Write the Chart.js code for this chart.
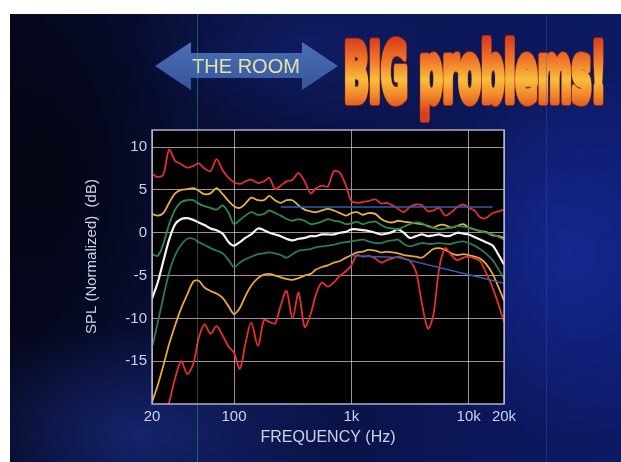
<!DOCTYPE html>
<html>
<head>
<meta charset="utf-8">
<script src="https://cdn.jsdelivr.net/npm/chart.js@4.4.1/dist/chart.umd.min.js"></script>
<style>
  html, body { margin: 0; padding: 0; background: #fff; }
  body { width: 621px; height: 462px; position: relative; overflow: hidden; }
  .slide {
    position: absolute; left: 10px; top: 14px; width: 611px; height: 448px;
    background:
      radial-gradient(ellipse 150px 190px at 560px 240px, rgba(24, 44, 160, 0.75), rgba(24, 44, 160, 0)),
      radial-gradient(ellipse 200px 110px at 130px 420px, rgba(28, 48, 140, 0.65), rgba(28, 48, 140, 0)),
      radial-gradient(ellipse 180px 90px at 300px 30px, rgba(22, 36, 120, 0.55), rgba(22, 36, 120, 0)),
      radial-gradient(ellipse 130px 200px at 40px 160px, rgba(2, 3, 14, 0.8), rgba(2, 3, 14, 0)),
      linear-gradient(90deg, #05081f 0%, #091243 45%, #0c1a66 100%);
  }
  #chart { position: absolute; left: 0; top: 0; }
  .scanline { position: absolute; top: 14px; bottom: 0; width: 1px; }
</style>
</head>
<body>
<div class="slide"></div>
<canvas id="chart" width="621" height="462"></canvas>
<div class="scanline" style="left:197px; background: rgba(70, 170, 110, 0.45);"></div>
<div class="scanline" style="left:546px; background: rgba(60, 90, 190, 0.35);"></div>
<script>
// frequency points (Hz), roughly 1/6 octave
const freqs = [20, 22.4, 25, 28, 31.5, 35.5, 40, 45, 50, 56,
  63, 71, 80, 90, 100, 112, 125, 140, 160, 180,
  200, 224, 250, 280, 315, 355, 400, 450, 500, 560,
  630, 710, 800, 900, 1000, 1120, 1250, 1400, 1600, 1800,
  2000, 2240, 2500, 2800, 3150, 3550, 4000, 4500, 5000, 5600,
  6300, 7100, 8000, 9000, 10000, 11200, 12500, 14000, 16000, 18000,
  20000];

// SPL curves, dB (normalized)
const redTop = [6.9, 6.5, 6.8, 9.7, 8.4, 8.0, 7.6, 7.8, 8.1, 7.5,
  7.2, 8.6, 7.3, 6.4, 5.9, 5.7, 6.0, 6.2, 5.8, 6.0,
  6.4, 5.1, 5.5, 6.0, 6.2, 7.0, 6.0, 4.6, 5.2, 5.5,
  5.4, 7.2, 7.0, 5.5, 3.7, 3.5, 3.6, 3.7, 3.9, 3.4,
  3.5, 3.2, 2.8, 2.4, 3.0, 3.3, 3.2, 2.5, 2.6, 2.9,
  2.0, 2.4, 3.0, 3.3, 2.9, 2.6, 1.8, 1.7, 2.3, 2.5,
  2.7];
const yellowTop = [2.2, 2.0, 2.3, 3.5, 4.6, 5.0, 5.1, 5.2, 4.9, 4.5,
  4.6, 5.2, 4.5, 3.7, 3.1, 2.9, 3.4, 4.1, 3.8, 3.8,
  4.3, 3.8, 3.5, 3.8, 3.8, 3.2, 2.7, 2.5, 2.4, 2.6,
  2.8, 2.6, 2.3, 2.0, 2.3, 2.4, 2.1, 2.3, 2.2, 1.6,
  1.3, 1.2, 1.4, 1.3, 1.2, 1.1, 1.0, 0.8, 0.6, 0.9,
  0.9, 0.6, 0.8, 1.0, 0.6, 0.4, 0.2, 0.1, -0.3, -0.4,
  -0.6];
const greenTop = [-2.5, -2.7, -1.3, 1.0, 2.7, 3.6, 3.8, 3.8, 3.4, 3.1,
  2.9, 2.7, 3.2, 2.3, 1.0, 1.5, 2.0, 2.4, 2.1, 2.2,
  2.6, 2.3, 2.0, 1.6, 1.4, 1.6, 1.4, 1.0, 1.1, 1.3,
  1.6, 1.4, 1.3, 1.0, 1.1, 1.3, 1.0, 1.2, 1.3, 0.9,
  0.6, 0.5, 0.4, 0.7, 1.0, 1.2, 1.1, 0.7, 0.6, 0.4,
  0.5, 0.6, 0.8, 0.7, 0.6, 0.4, 0.2, 0.0, -0.2, -0.5,
  -0.8];
const whiteMid = [-7.7, -5.8, -3.3, -0.8, 1.0, 1.6, 1.7, 1.5, 1.2, 0.9,
  0.5, 0.3, -0.1, -1.1, -1.5, -1.1, -0.6, -0.2, 0.5, 0.3,
  0.0, -0.2, -0.4, -0.7, -0.9, -0.7, -0.6, -0.4, -0.4, -0.2,
  -0.2, -0.2, 0.0, 0.1, 0.4, 0.4, 0.3, 0.2, 0.0, -0.2,
  -0.1, 0.1, 0.4, 0.0, -0.6, -0.4, -0.2, -0.4, -0.3, -0.2,
  -0.4, -0.3, 0.0, -0.1, -0.2, -0.5, -0.8, -1.1, -1.5, -2.6,
  -3.7];
const greenLow = [-13.5, -10.5, -7.5, -4.6, -2.6, -1.4, -0.7, -0.7, -1.1, -1.4,
  -1.8, -2.1, -2.4, -3.2, -4.0, -3.5, -3.1, -2.8, -2.5, -2.4,
  -2.3, -2.4, -2.6, -2.9, -2.5, -2.1, -2.0, -1.9, -1.7, -1.6,
  -1.5, -1.4, -1.2, -1.1, -1.0, -0.9, -0.8, -1.0, -1.2, -1.2,
  -1.0, -0.9, -0.8, -1.3, -1.6, -1.4, -1.2, -1.3, -1.3, -1.2,
  -1.3, -1.3, -1.1, -1.0, -1.2, -1.5, -1.9, -2.4, -3.2, -4.3,
  -5.4];
const yellowLow = [-19.8, -17.8, -15.5, -13.0, -10.8, -8.8, -7.2, -5.7, -5.6, -6.4,
  -6.8, -7.1, -7.6, -8.6, -9.5, -8.8, -7.4, -6.2, -5.3, -4.9,
  -4.8, -5.0, -5.2, -5.4, -5.5, -5.3, -5.0, -4.8, -4.3, -4.0,
  -3.8, -3.5, -3.3, -2.9, -2.6, -2.3, -2.2, -2.0, -2.1, -2.3,
  -2.2, -2.3, -2.4, -2.6, -2.7, -2.8, -2.9, -2.4, -1.9, -1.8,
  -2.0, -2.4, -2.6, -2.5, -2.6, -2.8, -3.0, -3.6, -4.8, -6.4,
  -7.9];
const redLow = [-25.0, -23.5, -22.0, -19.8, -17.0, -15.0, -16.5, -15.3, -12.3, -10.7,
  -11.8, -10.9, -12.0, -13.3, -14.0, -15.9, -13.0, -10.5, -13.2, -10.2,
  -10.4, -10.6, -8.5, -6.8, -10.0, -7.0, -11.0, -9.5, -7.2, -5.8,
  -6.3, -5.8, -5.0, -4.5, -3.8, -2.6, -2.8, -2.7, -3.0, -3.5,
  -3.2, -3.0, -2.8, -3.0, -3.3, -4.5, -8.3, -11.2, -9.6, -4.2,
  -1.8, -2.6, -3.2, -2.9, -2.8, -3.0, -3.3, -4.6, -6.4, -8.4,
  -10.4];

// blue reference lines
const refUpperFreqs = [250, 16000];
const refUpper = [3.0, 3.0];
const refLowerFreqs = [1000, 2500, 20000];
const refLower = [-2.7, -2.9, -5.9];

// axis ticks
const xTickValues = [20, 100, 1000, 10000, 20000];
const xTickLabels = ["20", "100", "1k", "10k", "20k"];
const yTickValues = [-15, -10, -5, 0, 5, 10];

const toPoints = (xs, ys) => xs.map((x, i) => ({ x: x, y: ys[i] }));

const curve = (values, color, width) => ({
  data: toPoints(freqs, values),
  borderColor: color,
  borderWidth: width,
  pointRadius: 0,
  tension: 0.3,
  fill: false
});

const labelColor = "#cdd2ea";
const gridColor = "rgba(215, 190, 205, 0.75)";

const plotFrame = {
  id: "plotFrame",
  beforeDraw(chart) {
    const { ctx, chartArea: a } = chart;
    ctx.save();
    ctx.fillStyle = "#000";
    ctx.fillRect(a.left, a.top, a.right - a.left, a.bottom - a.top);
    ctx.restore();
  },
  afterDraw(chart) {
    const { ctx, chartArea: a } = chart;
    ctx.save();
    ctx.strokeStyle = "rgba(200, 190, 225, 0.9)";
    ctx.lineWidth = 1.5;
    ctx.strokeRect(a.left, a.top, a.right - a.left, a.bottom - a.top);
    ctx.restore();
  }
};

const slideDecor = {
  id: "slideDecor",
  afterDraw(chart) {
    const ctx = chart.ctx;
    ctx.save();
    // double arrow
    const ag = ctx.createLinearGradient(0, 42, 0, 90);
    ag.addColorStop(0, "#4a6fb8");
    ag.addColorStop(1, "#35559a");
    ctx.fillStyle = ag;
    ctx.beginPath();
    ctx.moveTo(155, 66);
    ctx.lineTo(191, 42);
    ctx.lineTo(191, 53);
    ctx.lineTo(302, 53);
    ctx.lineTo(302, 42);
    ctx.lineTo(338, 66);
    ctx.lineTo(302, 90);
    ctx.lineTo(302, 78);
    ctx.lineTo(191, 78);
    ctx.lineTo(191, 90);
    ctx.closePath();
    ctx.fill();

    ctx.font = '20px "Liberation Sans", Arial, sans-serif';
    ctx.fillStyle = "#e6e2a6";
    ctx.textAlign = "center";
    ctx.textBaseline = "middle";
    ctx.fillText("THE ROOM", 246, 67);

    // headline
    const headline = "BIG problems!";
    ctx.font = 'bold 80px "Liberation Sans Narrow", "DejaVu Sans Condensed", sans-serif';
    ctx.textAlign = "left";
    ctx.textBaseline = "alphabetic";
    const w = ctx.measureText(headline).width;
    ctx.translate(344, 101);
    ctx.scale(262 / w, 1);
    const hg = ctx.createLinearGradient(0, -62, 0, 12);
    hg.addColorStop(0, "#d9401e");
    hg.addColorStop(0.3, "#f07a2a");
    hg.addColorStop(0.55, "#f8be3c");
    hg.addColorStop(0.75, "#f28a2c");
    hg.addColorStop(1, "#d8401c");
    ctx.lineJoin = "round";
    ctx.lineWidth = 10;
    ctx.strokeStyle = "#9a2a12";
    ctx.strokeText(headline, 0, 0);
    ctx.lineWidth = 8;
    ctx.strokeStyle = hg;
    ctx.strokeText(headline, 0, 0);
    ctx.fillStyle = hg;
    ctx.fillText(headline, 0, 0);
    ctx.restore();
  }
};

new Chart(document.getElementById("chart"), {
  type: "line",
  data: {
    datasets: [
      { data: toPoints(refUpperFreqs, refUpper), borderColor: "#2f5fb0", borderWidth: 1.5, pointRadius: 0, fill: false },
      { data: toPoints(refLowerFreqs, refLower), borderColor: "#2f5fb0", borderWidth: 1.5, pointRadius: 0, fill: false },
      curve(redLow, "#e8302a", 1.8),
      curve(yellowLow, "#e9a83c", 1.8),
      curve(greenLow, "#2a7a58", 1.8),
      curve(greenTop, "#2f8a4e", 1.8),
      curve(yellowTop, "#e3b24c", 1.8),
      curve(redTop, "#e0302c", 1.8),
      curve(whiteMid, "#f4f4f0", 2.2)
    ]
  },
  options: {
    responsive: false,
    animation: false,
    events: [],
    layout: { padding: { left: 80, top: 130, right: 117, bottom: 15 } },
    plugins: { legend: { display: false }, tooltip: { enabled: false } },
    scales: {
      x: {
        type: "logarithmic",
        min: 20,
        max: 20000,
        afterBuildTicks: (scale) => { scale.ticks = xTickValues.map(v => ({ value: v })); },
        afterFit: (scale) => { scale.height = 43; scale.paddingLeft = 0; scale.paddingRight = 0; },
        grid: { color: gridColor, lineWidth: 1, drawTicks: false },
        border: { display: false },
        ticks: {
          color: labelColor,
          font: { family: '"Liberation Sans", Arial, sans-serif', size: 15 },
          padding: 4,
          maxRotation: 0,
          autoSkip: false,
          callback: (value) => xTickLabels[xTickValues.indexOf(value)]
        },
        title: {
          display: true,
          text: "FREQUENCY (Hz)",
          color: labelColor,
          font: { family: '"Liberation Sans", Arial, sans-serif', size: 16 },
          padding: { top: 0, bottom: 0 }
        }
      },
      y: {
        min: -20,
        max: 12,
        afterBuildTicks: (scale) => { scale.ticks = yTickValues.map(v => ({ value: v })); },
        afterFit: (scale) => { scale.width = 72; scale.paddingTop = 0; scale.paddingBottom = 0; },
        grid: { color: gridColor, lineWidth: 1, drawTicks: false },
        border: { display: false },
        ticks: {
          color: labelColor,
          font: { family: '"Liberation Sans", Arial, sans-serif', size: 15 },
          padding: 5
        },
        title: {
          display: true,
          text: "     SPL (Normalized)  (dB)",
          color: labelColor,
          font: { family: '"Liberation Sans", Arial, sans-serif', size: 15 },
          padding: { top: 3, bottom: 0 }
        }
      }
    }
  },
  plugins: [plotFrame, slideDecor]
});
</script>
</body>
</html>
